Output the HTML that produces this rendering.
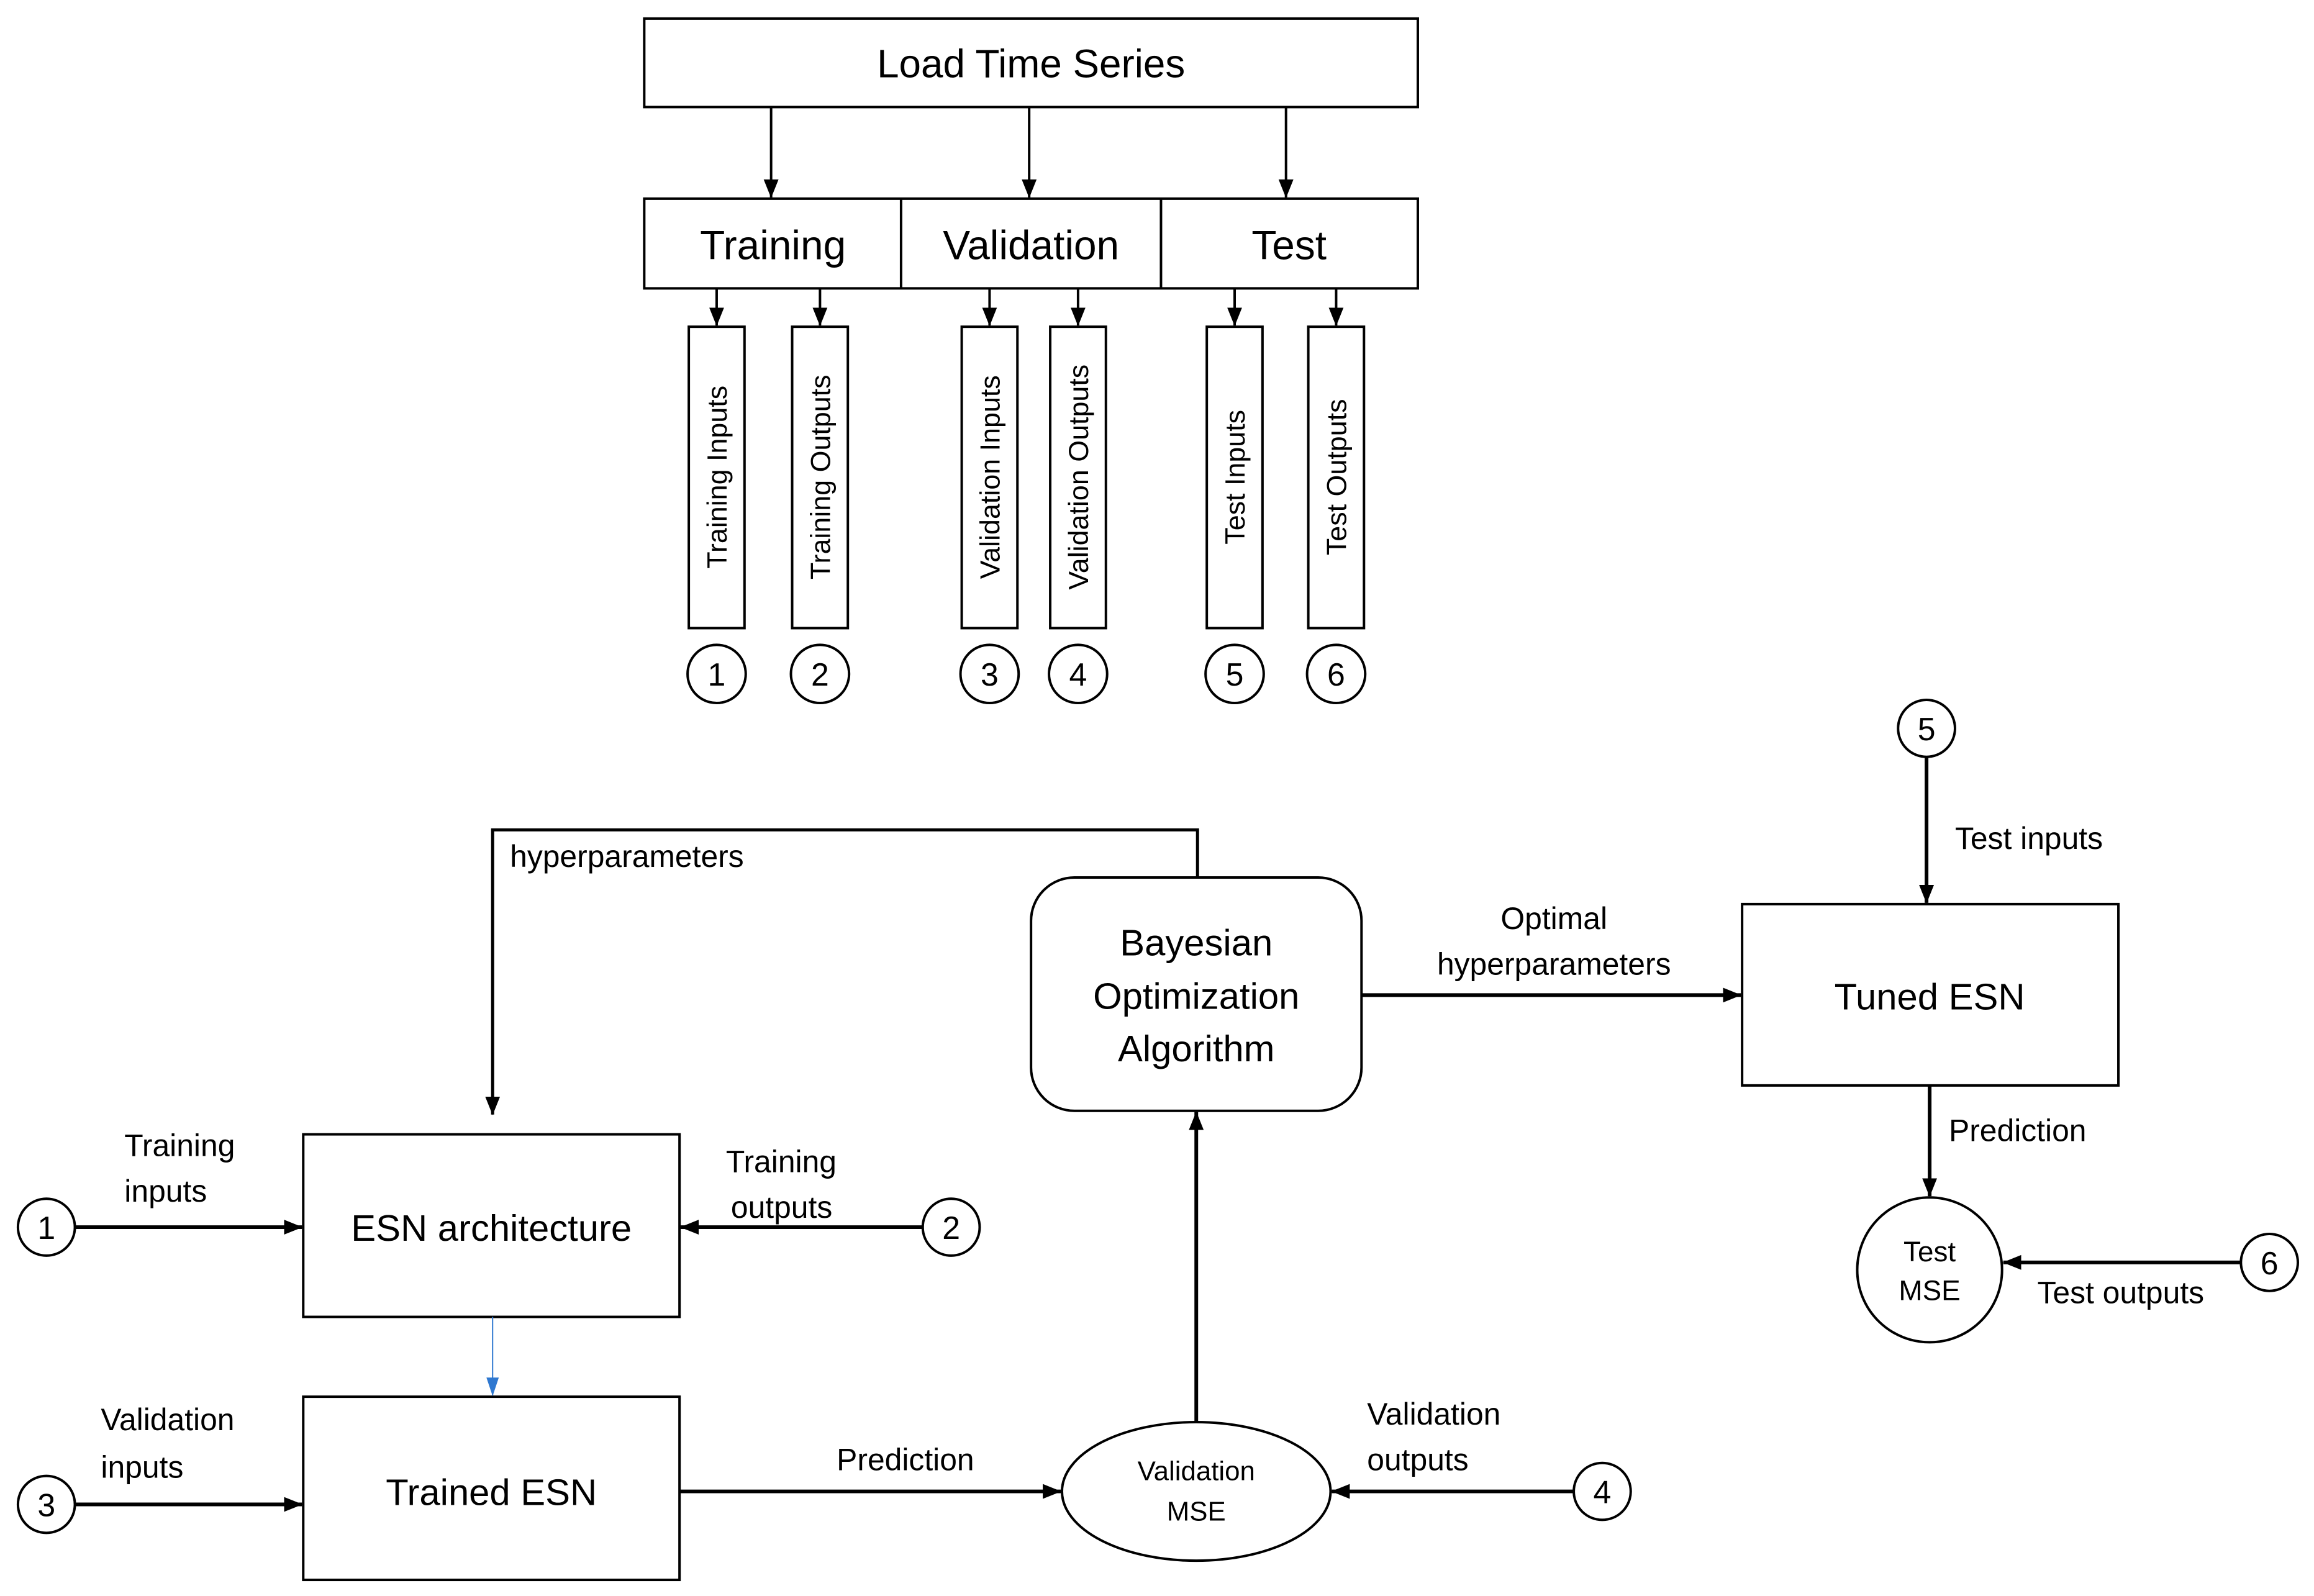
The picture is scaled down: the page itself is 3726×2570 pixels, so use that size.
<!DOCTYPE html>
<html><head><meta charset="utf-8"><style>
html,body{margin:0;padding:0;background:#fff}
svg{display:block}
text{font-family:"Liberation Sans",sans-serif;fill:#000}
</style></head><body>
<svg width="3726" height="2570" viewBox="0 0 3726 2570" xmlns="http://www.w3.org/2000/svg">
<defs>
<marker id="b" markerWidth="30" markerHeight="30" refX="29" refY="15" orient="auto" markerUnits="userSpaceOnUse" viewBox="0 0 30 30"><path d="M0,3 L30,15 L0,27 z" fill="#000"/></marker>
<marker id="bb" markerWidth="30" markerHeight="30" refX="29" refY="15" orient="auto" markerUnits="userSpaceOnUse" viewBox="0 0 30 30"><path d="M0,5 L30,15 L0,25 z" fill="#2f78d0"/></marker>
</defs>
<g transform="translate(1,1) scale(0.9965)">
<g fill="none" stroke="#000" stroke-width="4">
<rect x="1040" y="29" width="1250" height="143"/>
<rect x="1040" y="320" width="1250" height="145"/>
<line x1="1455" y1="320" x2="1455" y2="465"/>
<line x1="1875" y1="320" x2="1875" y2="465"/>
<rect x="1112" y="527" width="90" height="487"/>
<rect x="1279" y="527" width="90" height="487"/>
<rect x="1553" y="527" width="90" height="487"/>
<rect x="1696" y="527" width="90" height="487"/>
<rect x="1949" y="527" width="90" height="487"/>
<rect x="2113" y="527" width="90" height="487"/>
<circle cx="1157" cy="1088" r="47"/>
<circle cx="1324" cy="1088" r="47"/>
<circle cx="1598" cy="1088" r="47"/>
<circle cx="1741" cy="1088" r="47"/>
<circle cx="1994" cy="1088" r="47"/>
<circle cx="2158" cy="1088" r="47"/>
</g>
<g stroke="#000" stroke-width="4" marker-end="url(#b)">
<line x1="1245" y1="172" x2="1245" y2="318"/>
<line x1="1662" y1="172" x2="1662" y2="318"/>
<line x1="2077" y1="172" x2="2077" y2="318"/>
<line x1="1157" y1="465" x2="1157" y2="525"/>
<line x1="1324" y1="465" x2="1324" y2="525"/>
<line x1="1598" y1="465" x2="1598" y2="525"/>
<line x1="1741" y1="465" x2="1741" y2="525"/>
<line x1="1994" y1="465" x2="1994" y2="525"/>
<line x1="2158" y1="465" x2="2158" y2="525"/>
</g>
<g text-anchor="middle">
<text x="1665" y="124" font-size="64">Load Time Series</text>
<text x="1248" y="418" font-size="66">Training</text>
<text x="1665" y="418" font-size="66">Validation</text>
<text x="2082" y="418" font-size="66">Test</text>
<g font-size="45">
<text transform="translate(1173,770) rotate(-90)">Training Inputs</text>
<text transform="translate(1340,770) rotate(-90)">Training Outputs</text>
<text transform="translate(1614,770) rotate(-90)">Validation Inputs</text>
<text transform="translate(1757,770) rotate(-90)">Validation Outputs</text>
<text transform="translate(2010,770) rotate(-90)">Test Inputs</text>
<text transform="translate(2174,770) rotate(-90)">Test Outputs</text>
</g>
<g font-size="52">
<text x="1157" y="1107">1</text><text x="1324" y="1107">2</text><text x="1598" y="1107">3</text>
<text x="1741" y="1107">4</text><text x="1994" y="1107">5</text><text x="2158" y="1107">6</text>
</g>
</g>

<g fill="none" stroke="#000" stroke-width="4">
<rect x="489" y="1832" width="608" height="295"/>
<rect x="489" y="2256" width="608" height="296"/>
<rect x="1665" y="1417" width="534" height="377" rx="70"/>
<rect x="2814" y="1460" width="608" height="293"/>
<ellipse cx="1932" cy="2409" rx="217" ry="112"/>
<circle cx="3117" cy="2051" r="117"/>
<circle cx="74" cy="1982" r="46"/>
<circle cx="1536" cy="1982" r="46"/>
<circle cx="74" cy="2430" r="46"/>
<circle cx="2588" cy="2409" r="46"/>
<circle cx="3112" cy="1176" r="46"/>
<circle cx="3666" cy="2039" r="46"/>
<polyline points="1934,1417 1934,1340 795,1340 795,1800" marker-end="url(#b)" stroke-width="5"/>
</g>
<g stroke="#000" stroke-width="6" marker-end="url(#b)">
<line x1="120" y1="1982" x2="487" y2="1982"/>
<line x1="1490" y1="1982" x2="1099" y2="1982"/>
<line x1="120" y1="2430" x2="487" y2="2430"/>
<line x1="1097" y1="2409" x2="1713" y2="2409"/>
<line x1="2542" y1="2409" x2="2151" y2="2409"/>
<line x1="1932" y1="2297" x2="1932" y2="1796"/>
<line x1="2199" y1="1607" x2="2812" y2="1607"/>
<line x1="3112" y1="1222" x2="3112" y2="1458"/>
<line x1="3117" y1="1753" x2="3117" y2="1932"/>
<line x1="3620" y1="2039" x2="3236" y2="2039"/>
</g>
<line x1="795" y1="2127" x2="795" y2="2254" stroke="#2f78d0" stroke-width="2" marker-end="url(#bb)"/>
<g font-size="50">
<text x="823" y="1400">hyperparameters</text>
<text x="200" y="1867">Training</text><text x="200" y="1941">inputs</text>
<text x="1172" y="1893">Training</text><text x="1180" y="1967">outputs</text>
<text x="162" y="2310">Validation</text><text x="162" y="2387">inputs</text>
<text x="2208" y="2301">Validation</text><text x="2208" y="2375">outputs</text>
<text x="3158" y="1371">Test inputs</text>
<text x="3148" y="1843">Prediction</text>
<text x="3291" y="2105">Test outputs</text>
</g>
<g text-anchor="middle">
<text x="1462" y="2375" font-size="50">Prediction</text>
<text x="2510" y="1500" font-size="50">Optimal</text>
<text x="2510" y="1574" font-size="50">hyperparameters</text>
<text x="793" y="2004" font-size="60">ESN architecture</text>
<text x="793" y="2431" font-size="60">Trained ESN</text>
<text x="3117" y="1630" font-size="60">Tuned ESN</text>
<text x="1932" y="1543" font-size="60">Bayesian</text>
<text x="1932" y="1629" font-size="60">Optimization</text>
<text x="1932" y="1714" font-size="60">Algorithm</text>
<text x="1932" y="2391" font-size="44">Validation</text>
<text x="1932" y="2456" font-size="44">MSE</text>
<text x="3117" y="2037" font-size="46">Test</text>
<text x="3117" y="2100" font-size="46">MSE</text>
<g font-size="52">
<text x="74" y="2001">1</text><text x="1536" y="2001">2</text><text x="74" y="2449">3</text>
<text x="2588" y="2428">4</text><text x="3112" y="1195">5</text><text x="3666" y="2058">6</text>
</g>
</g>
</g>
</svg>
</body></html>
